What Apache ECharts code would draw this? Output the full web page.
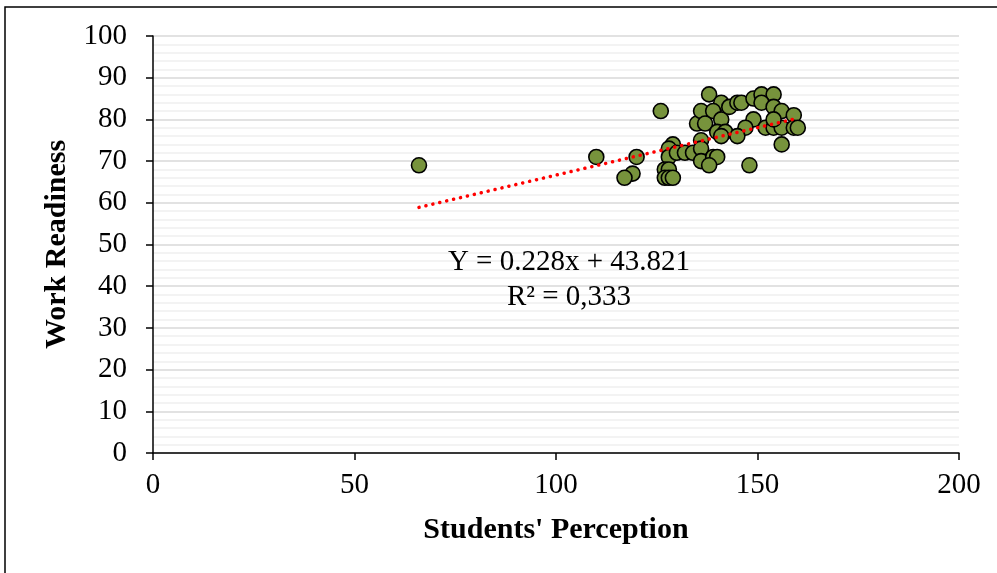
<!DOCTYPE html>
<html>
<head>
<meta charset="utf-8">
<script src="https://cdn.jsdelivr.net/npm/echarts@6/dist/echarts.min.js"></script>
<style>
  html, body { margin: 0; padding: 0; background: #fff; }
  #chart { width: 997px; height: 573px; }
</style>
</head>
<body>
<div id="chart"></div>
<script>
// Students' Perception (x) vs Work Readiness (y)
const perception = [66, 110, 120, 126, 119, 117, 129, 128, 128, 127, 128, 127, 128, 129, 130, 132, 134,
    136, 135, 136, 138, 141, 139, 137, 141, 143, 145, 146, 149, 151, 154, 151, 154, 156, 159,
    149, 147, 152, 154, 156, 154, 159, 160, 156, 140, 142, 141, 145, 136, 136, 139, 140, 138, 148];
const readiness = [69, 71, 71, 82, 67, 66, 74, 73, 71, 68, 68, 66, 66, 66, 72, 72, 72,
    75, 79, 82, 86, 84, 82, 79, 80, 83, 84, 84, 85, 86, 86, 84, 83, 82, 81,
    80, 78, 78, 78, 78, 80, 78, 78, 74, 77, 77, 76, 76, 73, 70, 71, 71, 69, 69];

// linear trend line end points (Y = 0.228x + 43.821)
const trendX = [66, 160];
const trendY = [58.9, 80.3];

const eqText = 'Y = 0.228x + 43.821';
const r2Text = 'R² = 0,333';

const serif = '"Liberation Serif", "Times New Roman", serif';

let myChart = echarts.init(document.getElementById('chart'));

let option = {
    animation: false,
    grid: {
        left: 153,
        right: 38,
        top: 36,
        bottom: 120
    },
    xAxis: {
        type: 'value',
        min: 0,
        max: 200,
        interval: 50,
        name: "Students' Perception",
        nameLocation: 'middle',
        nameGap: 62,
        nameTextStyle: { fontFamily: serif, fontSize: 30, fontWeight: 'bold', color: '#000' },
        axisLine: { show: true, onZero: false, lineStyle: { color: '#000', width: 1.5 } },
        axisTick: { show: true, length: 7, lineStyle: { color: '#000', width: 1.5 } },
        axisLabel: { fontFamily: serif, fontSize: 29, color: '#000', margin: 18 },
        splitLine: { show: false }
    },
    yAxis: {
        type: 'value',
        min: 0,
        max: 100,
        interval: 10,
        name: 'Work Readiness',
        nameLocation: 'middle',
        nameGap: 76,
        nameTextStyle: { fontFamily: serif, fontSize: 30, fontWeight: 'bold', color: '#000' },
        axisLine: { show: true, lineStyle: { color: '#000', width: 1.5 } },
        axisTick: { show: true, length: 7, lineStyle: { color: '#000', width: 1.5 } },
        axisLabel: { fontFamily: serif, fontSize: 29, color: '#000', margin: 26 },
        splitLine: { show: true, lineStyle: { color: '#d9d9d9', width: 1.5 } },
        minorTick: { show: false, splitNumber: 5 },
        minorSplitLine: { show: true, lineStyle: { color: '#efefef', width: 1.5 } }
    },
    series: [
        {
            name: 'Trend',
            type: 'line',
            data: trendX.map((x, i) => [x, trendY[i]]),
            showSymbol: false,
            silent: true,
            z: 3,
            lineStyle: { color: '#ff0000', width: 3.5, type: [0.1, 7], cap: 'round' }
        },
        {
            name: 'Data',
            type: 'scatter',
            data: perception.map((x, i) => [x, readiness[i]]),
            symbol: 'circle',
            symbolSize: 15,
            z: 2,
            itemStyle: { color: '#77933c', borderColor: '#000', borderWidth: 1.6, opacity: 1 }
        }
    ],
    graphic: [
        {
            type: 'rect',
            shape: { x: 5, y: 7, width: 1100, height: 700 },
            style: { fill: 'none', stroke: '#000', lineWidth: 1.5 },
            silent: true
        },
        {
            type: 'text',
            x: 569,
            y: 262,
            z: 100,
            style: { text: eqText, font: '29px ' + serif, fill: '#000', align: 'center', verticalAlign: 'middle' }
        },
        {
            type: 'text',
            x: 569,
            y: 297,
            z: 100,
            style: { text: r2Text, font: '29px ' + serif, fill: '#000', align: 'center', verticalAlign: 'middle' }
        }
    ]
};

myChart.setOption(option);
</script>
</body>
</html>
